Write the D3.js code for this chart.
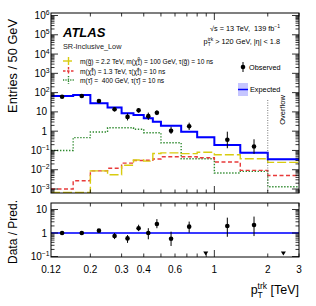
<!DOCTYPE html>
<meta charset="utf-8" />
<script src="https://d3js.org/d3.v7.min.js"></script>
<style>
  body { margin: 0; background: #fff; }
  text { font-family: "Liberation Sans", Arial, sans-serif; fill: #000; }
</style>
<body>
<div id="chart"></div>
<script>
  // bin edges, p_T^trk in TeV
  var edges = [0.12, 0.16, 0.2, 0.25, 0.3, 0.35, 0.4, 0.45, 0.5, 0.65, 0.8, 1.0, 1.4, 2.0, 3.0];

  // expected background (entries / 50 GeV) and its band
  var expected = [67, 75, 28, 17, 8.5, 6.9, 4.7, 3.1, 1.93, 0.94, 0.48, 0.19, 0.077, 0.035];
  var expLow   = [63, 71, 26, 15.5, 7.6, 6.2, 4.2, 2.8, 1.75, 0.85, 0.43, 0.17, 0.069, 0.031];
  var expHigh  = [71, 79, 30, 18.5, 9.4, 7.6, 5.2, 3.4, 2.1, 1.03, 0.53, 0.21, 0.085, 0.039];

  // observed data (0 = no entry)
  var observed = [61, 67, 37, 13.7, 5.5, 12, 6, 9, 1.06, 1.8, 0, 0.36, 0.16, 0];
  var obsLow   = [56, 62, 33, 10.5, 3.6, 9.2, 3.8, 6.8, 0.72, 1.15, 0, 0.13, 0.066, 0];
  var obsHigh  = [66, 72, 42, 17.5, 8.3, 15.5, 9.2, 12, 1.7, 2.76, 0, 0.94, 0.38, 0];

  // signal models
  var gluino   = [0, 0, 0.0087, 0.0055, 0.017, 0.032, 0.028, 0.07, 0.075, 0.068, 0.08, 0.06, 0.037, 0.024];
  var chargino = [0.001, 0.0027, 0.0087, 0.012, 0.022, 0.03, 0.031, 0.036, 0.047, 0.047, 0.042, 0.025, 0.0093, 0.005];
  var stau     = [0.1, 0.46, 0.9, 1.5, 1.5, 1.25, 0.83, 0.83, 0.25, 0.037, 0.037, 0.0068, 0.0082, 0.0013];

  // data / prediction
  var ratio     = [1.0, 1.0, 1.26, 0.74, 0.59, 1.6, 1.0, 2.4, 0.57, 1.86, 0, 2.0, 2.2, 0];
  var ratioLow  = [0.9, 0.9, 1.1, 0.55, 0.38, 1.2, 0.54, 1.6, 0.28, 1.03, 0, 0.69, 0.74, 0];
  var ratioHigh = [1.1, 1.1, 1.45, 1.0, 0.82, 2.25, 1.6, 3.9, 1.14, 3.06, 0, 4.5, 5.0, 0];

  var xTickLabels = ["0.12", "0.2", "0.3", "0.4", "0.6", "1", "2", "3"];

  var width = 316, height = 306;
  var left = 51, right = 299;
  var mainTop = 13, mainBottom = 193;
  var ratTop = 203, ratBottom = 257;

  var svg = d3.select("#chart").append("svg")
    .attr("width", width).attr("height", height);

  var x = d3.scaleLog().domain([0.12, 3]).range([left, right]);
  var y = d3.scaleLog().domain([1e-3, 1e6]).range([189, 15.5]);
  var yr = d3.scaleLog().domain([0.1, 10]).range([256.5, 209.5]);

  var defs = svg.append("defs");
  defs.append("clipPath").attr("id", "clipMain").append("rect")
    .attr("x", left).attr("y", mainTop).attr("width", right - left).attr("height", mainBottom - mainTop);
  defs.append("clipPath").attr("id", "clipRat").append("rect")
    .attr("x", left).attr("y", ratTop).attr("width", right - left).attr("height", ratBottom - ratTop);

  function center(i) { return Math.sqrt(edges[i] * edges[i + 1]); }

  function histPath(vals, scale, yMin) {
    var pts = vals.map(function(v, i) {
      return [x(edges[i]), v > 0 ? scale(v) : yMin];
    });
    pts.push([x(edges[edges.length - 1]), pts[pts.length - 1][1]]);
    return d3.line().curve(d3.curveStepAfter)(pts);
  }

  // text made of pieces, each piece may carry a stacked super- and subscript
  function richText(px, py, parts, size, anchor) {
    var g = svg.append("g");
    var cur = 0, small = size * 0.68;
    parts.forEach(function(p) {
      if (p.t) {
        var t = g.append("text").attr("x", cur).attr("y", 0).style("font-size", size + "px")
          .attr("xml:space", "preserve").text(p.t);
        cur += t.node().getComputedTextLength();
      }
      var w = 0;
      if (p.sup) {
        var s = g.append("text").attr("x", cur).attr("y", -size * 0.38).style("font-size", small + "px").text(p.sup);
        w = Math.max(w, s.node().getComputedTextLength());
      }
      if (p.sub) {
        var b = g.append("text").attr("x", cur).attr("y", size * 0.3).style("font-size", small + "px").text(p.sub);
        w = Math.max(w, b.node().getComputedTextLength());
      }
      cur += w;
    });
    var shift = anchor === "end" ? -cur : 0;
    g.attr("transform", "translate(" + (px + shift) + "," + py + ")");
    return g;
  }

  // ---------- main panel ----------
  var main = svg.append("g").attr("clip-path", "url(#clipMain)");

  main.selectAll(".band").data(expected).enter().append("rect")
    .attr("x", function(d, i) { return x(edges[i]); })
    .attr("width", function(d, i) { return x(edges[i + 1]) - x(edges[i]); })
    .attr("y", function(d, i) { return y(expHigh[i]); })
    .attr("height", function(d, i) { return y(expLow[i]) - y(expHigh[i]); })
    .attr("fill", "#c6c6ff");

  main.append("path").attr("d", histPath(stau, y, mainBottom + 1))
    .attr("fill", "none").attr("stroke", "#2f8a2f").attr("stroke-width", 1.4)
    .attr("stroke-dasharray", "1.4,1.6");
  main.append("path").attr("d", histPath(chargino, y, mainBottom + 1))
    .attr("fill", "none").attr("stroke", "#e83a3a").attr("stroke-width", 1.4)
    .attr("stroke-dasharray", "4,2.5");
  main.append("path").attr("d", histPath(gluino, y, mainBottom - 0.5))
    .attr("fill", "none").attr("stroke", "#d8cc10").attr("stroke-width", 1.4)
    .attr("stroke-dasharray", "9,3");
  main.append("path").attr("d", histPath(expected, y, mainBottom + 1))
    .attr("fill", "none").attr("stroke", "#0000ff").attr("stroke-width", 2);

  // overflow marker
  svg.append("line")
    .attr("x1", x(2)).attr("x2", x(2)).attr("y1", 100).attr("y2", mainBottom)
    .attr("stroke", "#555").attr("stroke-width", 0.8).attr("stroke-dasharray", "1,1.5");
  svg.append("text")
    .attr("transform", "translate(285,110) rotate(-90)")
    .attr("text-anchor", "middle").style("font-size", "7.5px").text("Overflow");

  // observed points
  var obsIdx = d3.range(observed.length).filter(function(i) { return observed[i] > 0; });
  main.selectAll(".oerr").data(obsIdx).enter().append("line")
    .attr("x1", function(i) { return x(center(i)); })
    .attr("x2", function(i) { return x(center(i)); })
    .attr("y1", function(i) { return y(obsLow[i]); })
    .attr("y2", function(i) { return y(obsHigh[i]); })
    .attr("stroke", "#000").attr("stroke-width", 1);
  main.selectAll(".opt").data(obsIdx).enter().append("circle")
    .attr("cx", function(i) { return x(center(i)); })
    .attr("cy", function(i) { return y(observed[i]); })
    .attr("r", 2.3).attr("fill", "#000");

  // ---------- ratio panel ----------
  var rat = svg.append("g").attr("clip-path", "url(#clipRat)");
  rat.append("rect")
    .attr("x", left).attr("width", right - left)
    .attr("y", yr(1.05)).attr("height", yr(0.95) - yr(1.05))
    .attr("fill", "#c6c6ff");
  rat.append("line")
    .attr("x1", left).attr("x2", right).attr("y1", yr(1)).attr("y2", yr(1))
    .attr("stroke", "#0000ff").attr("stroke-width", 1.5);

  rat.selectAll(".rerr").data(obsIdx).enter().append("line")
    .attr("x1", function(i) { return x(center(i)); })
    .attr("x2", function(i) { return x(center(i)); })
    .attr("y1", function(i) { return yr(ratioLow[i]); })
    .attr("y2", function(i) { return yr(ratioHigh[i]); })
    .attr("stroke", "#000").attr("stroke-width", 1);
  rat.selectAll(".rpt").data(obsIdx).enter().append("circle")
    .attr("cx", function(i) { return x(center(i)); })
    .attr("cy", function(i) { return yr(ratio[i]); })
    .attr("r", 2.3).attr("fill", "#000");

  // down arrows for empty bins
  var emptyIdx = d3.range(observed.length).filter(function(i) { return observed[i] <= 0; });
  rat.selectAll(".arr").data(emptyIdx).enter().append("path")
    .attr("d", function(i) {
      var cx = x(center(i)), by = ratBottom - 1.5;
      return "M" + (cx - 2.5) + "," + (by - 4) + "L" + (cx + 2.5) + "," + (by - 4) + "L" + cx + "," + by + "Z";
    })
    .attr("fill", "#000");

  // ---------- frames and ticks ----------
  function frame(top, bottom) {
    svg.append("rect").attr("x", left).attr("y", top)
      .attr("width", right - left).attr("height", bottom - top)
      .attr("fill", "none").attr("stroke", "#000").attr("stroke-width", 1);
  }
  frame(mainTop, mainBottom);
  frame(ratTop, ratBottom);

  var xMinor = [0.2, 0.3, 0.4, 0.5, 0.6, 0.7, 0.8, 0.9, 2, 3];
  function xTicks(top, bottom) {
    var g = svg.append("g").attr("stroke", "#000").attr("stroke-width", 0.8);
    xMinor.forEach(function(v) {
      g.append("line").attr("x1", x(v)).attr("x2", x(v)).attr("y1", bottom).attr("y2", bottom - 3.5);
      g.append("line").attr("x1", x(v)).attr("x2", x(v)).attr("y1", top).attr("y2", top + 3.5);
    });
    g.append("line").attr("x1", x(1)).attr("x2", x(1)).attr("y1", bottom).attr("y2", bottom - 7);
    g.append("line").attr("x1", x(1)).attr("x2", x(1)).attr("y1", top).attr("y2", top + 7);
  }
  xTicks(mainTop, mainBottom);
  xTicks(ratTop, ratBottom);

  function yTicks(scale, lo, hi, top, bottom) {
    var g = svg.append("g").attr("stroke", "#000").attr("stroke-width", 0.8);
    for (var e = lo; e <= hi; e++) {
      for (var m = 1; m < 10; m++) {
        var py = scale(m * Math.pow(10, e));
        if (py < top || py > bottom) continue;
        var len = m === 1 ? 7 : 3.5;
        g.append("line").attr("x1", left).attr("x2", left + len).attr("y1", py).attr("y2", py);
        g.append("line").attr("x1", right).attr("x2", right - len).attr("y1", py).attr("y2", py);
      }
    }
  }
  yTicks(y, -4, 6, mainTop, mainBottom);
  yTicks(yr, -2, 1, ratTop, ratBottom);

  // power-of-ten labels
  function powLabel(py, e) {
    if (e === 0) return richText(47, py, [{ t: "1" }], 10, "end");
    if (e === 1) return richText(47, py, [{ t: "10" }], 10, "end");
    return richText(49.5, py, [{ t: "10", sup: e < 0 ? "\u2212" + (-e) : String(e) }], 10, "end");
  }
  d3.range(-3, 7).forEach(function(e) { powLabel(y(Math.pow(10, e)) + 3.5, e); });
  powLabel(yr(10) + 3.5, 1);
  powLabel(yr(1) + 3.5, 0);
  powLabel(yr(0.1) + 3, -1);

  // x labels
  xTickLabels.forEach(function(s) {
    svg.append("text").attr("x", x(+s)).attr("y", 273)
      .attr("text-anchor", "middle").style("font-size", "10px").text(s);
  });

  // axis titles
  richText(299, 294, [{ t: "p", sup: "trk", sub: "T" }, { t: " [TeV]" }], 12.5, "end");

  svg.append("text")
    .attr("transform", "translate(17,19) rotate(-90)")
    .attr("text-anchor", "end").style("font-size", "12.8px").text("Entries / 50 GeV");
  svg.append("text")
    .attr("transform", "translate(17,200) rotate(-90)")
    .attr("text-anchor", "end").style("font-size", "12px").text("Data / Pred.");

  // labels inside the main panel
  svg.append("text").attr("x", 63).attr("y", 37)
    .style("font-size", "13px").style("font-weight", "bold").style("font-style", "italic")
    .text("ATLAS");
  svg.append("text").attr("x", 63).attr("y", 48.5)
    .style("font-size", "7.3px").style("fill", "#222").text("SR-Inclusive_Low");

  richText(280, 31, [{ t: "\u221As = 13 TeV,  139 fb", sup: "\u22121" }], 7.3, "end");
  richText(280, 43.5, [{ t: "p", sup: "trk", sub: "T" }, { t: " > 120 GeV, |\u03B7| < 1.8" }], 7.3, "end");

  // signal legend
  var legend = [
    { color: "#d8cc10", dash: "9,3", y: 61,
      parts: [{ t: "m(g\u0303) = 2.2 TeV, m(\u03C7\u0303", sup: "0", sub: "1" }, { t: ") = 100 GeV, \u03C4(g\u0303) = 10 ns" }] },
    { color: "#e83a3a", dash: "2.5,1.5", y: 71,
      parts: [{ t: "m(\u03C7\u0303", sup: "\u00B1", sub: "1" }, { t: ") = 1.3 TeV, \u03C4(\u03C7\u0303", sup: "\u00B1", sub: "1" }, { t: ") = 10 ns" }] },
    { color: "#2f8a2f", dash: "1.2,1.2", y: 80,
      parts: [{ t: "m(\u03C4\u0303) =  400 GeV, \u03C4(\u03C4\u0303) = 10 ns" }] }
  ];
  legend.forEach(function(l) {
    svg.append("line").attr("x1", 63).attr("x2", 74).attr("y1", l.y).attr("y2", l.y)
      .attr("stroke", l.color).attr("stroke-width", 1.4).attr("stroke-dasharray", l.dash);
    svg.append("line").attr("x1", 68.5).attr("x2", 68.5).attr("y1", l.y - 4).attr("y2", l.y + 4)
      .attr("stroke", l.color).attr("stroke-width", 1.4).attr("stroke-dasharray", l.dash);
    richText(80, l.y + 2.5, l.parts, 6.6, "start");
  });

  // observed / expected legend
  svg.append("line").attr("x1", 243).attr("x2", 243).attr("y1", 62).attr("y2", 72)
    .attr("stroke", "#000").attr("stroke-width", 1);
  svg.append("circle").attr("cx", 243).attr("cy", 67).attr("r", 2.3).attr("fill", "#000");
  svg.append("text").attr("x", 249).attr("y", 69.5).style("font-size", "7.3px").text("Observed");

  svg.append("rect").attr("x", 238).attr("y", 83).attr("width", 10).attr("height", 13)
    .attr("fill", "#c6c6ff");
  svg.append("line").attr("x1", 238).attr("x2", 248).attr("y1", 89.5).attr("y2", 89.5)
    .attr("stroke", "#0000ff").attr("stroke-width", 1.5);
  svg.append("text").attr("x", 250).attr("y", 91.5).style("font-size", "7.3px").text("Expected");
</script>
</body>
